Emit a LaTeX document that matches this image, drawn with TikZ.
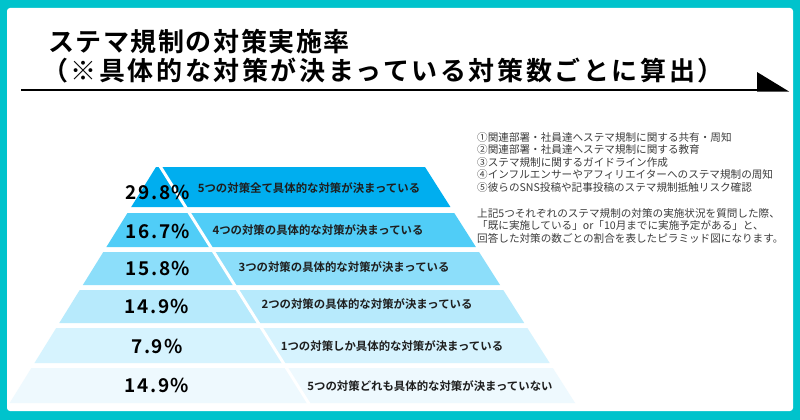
\documentclass[tikz,border=0pt]{standalone}
\usepackage{fontspec}
\setmainfont{Noto Sans CJK JP}[BoldFont={Noto Sans CJK JP Bold}]
\usetikzlibrary{positioning}

\definecolor{frame}{RGB}{0,195,204}
\definecolor{lay1}{RGB}{0,174,239}
\definecolor{lay2}{RGB}{80,205,247}
\definecolor{lay3}{RGB}{140,222,250}
\definecolor{lay4}{RGB}{183,234,252}
\definecolor{lay5}{RGB}{214,243,254}
\definecolor{lay6}{RGB}{238,249,254}
\definecolor{textdark}{RGB}{30,30,30}
\definecolor{textgray}{RGB}{60,60,60}

\begin{document}
\begin{tikzpicture}[
    x=1pt, y=-1pt,
    titletext/.style={font=\bfseries\fontsize{26}{28}\selectfont\addfontfeature{LetterSpace=6}, anchor=west, inner sep=0},
    subtitletext/.style={font=\bfseries\fontsize{26}{28}\selectfont\addfontfeature{LetterSpace=10}, anchor=west, inner sep=0},
    pct/.style={font=\bfseries\fontsize{19}{20}\selectfont\addfontfeature{LetterSpace=8}, text=black},
    lbl/.style={font=\bfseries\fontsize{11.4}{12}\selectfont, text=textdark},
    note/.style={font=\fontsize{10.6}{12}\selectfont, text=textgray, anchor=base west, inner sep=0}
]

% Frame
\fill[frame] (0,0) rectangle (800,420);
\fill[white, rounded corners=3pt] (7,8) rectangle (793,411);
\useasboundingbox (0,0) rectangle (800,420);

% Title
\node[titletext] (title1) at (48,42) {ステマ規制の対策実施率};
\node[subtitletext] (title2) at (42,71) {（※具体的な対策が決まっている対策数ごとに算出）};
\coordinate (ulstart) at (21,90);
\coordinate (ulend) at (757,90);
\draw[line width=2pt] (ulstart) -- (ulend);
\fill (757,72) -- (789,91.5) -- (757,91.5) -- cycle;

% Pyramid layers
\foreach \yt/\yb/\col in {167/207/lay1, 213/247/lay2, 252/285/lay3, 290/323/lay4, 328/363/lay5, 368/403/lay6}
  \fill[\col] ({156-0.62*(\yt-167)},\yt) -- ({425+0.636*(\yt-167)},\yt)
     -- ({425+0.636*(\yb-167)},\yb) -- ({156-0.62*(\yb-167)},\yb) -- cycle;
\coordinate (divtop) at (158,163);
\coordinate (divbot) at ({158+0.627*244},407);
\draw[white, line width=3pt] (divtop) -- (divbot);

% Percentages
\node[pct] (p5) at (158,192) {29.8\%};
\node[pct] (p4) at (158,231) {16.7\%};
\node[pct] (p3) at (158,268) {15.8\%};
\node[pct] (p2) at (157,306) {14.9\%};
\node[pct] (p1) at (157,346) {7.9\%};
\node[pct] (p0) at (157,385) {14.9\%};

% Labels
\node[lbl] (l5) at (309,188) {5つの対策全て具体的な対策が決まっている};
\node[lbl] (l4) at (318,230) {4つの対策の具体的な対策が決まっている};
\node[lbl] (l3) at (344,267) {3つの対策の具体的な対策が決まっている};
\node[lbl] (l2) at (367,304) {2つの対策の具体的な対策が決まっている};
\node[lbl] (l1) at (392,346) {1つの対策しか具体的な対策が決まっている};
\node[lbl] (l0) at (430,386) {5つの対策どれも具体的な対策が決まっていない};

% Notes
\foreach \txt [count=\k] in {①関連部署・社員達へステマ規制に関する共有・周知,
    ②関連部署・社員達へステマ規制に関する教育,
    ③ステマ規制に関するガイドライン作成,
    ④インフルエンサーやアフィリエイターへのステマ規制の周知,
    ⑤彼らのSNS投稿や記事投稿のステマ規制抵触リスク確認}
  \node[note] (item\k) at (477,{141+12.5*(\k-1)}) {\txt};
\foreach \txt [count=\k] in {上記5つそれぞれのステマ規制の対策の実施状況を質問した際、,
    「既に実施している」or「10月までに実施予定がある」と、,
    回答した対策の数ごとの割合を表したピラミッド図になります。}
  \node[note] (para\k) at (477,{217+12.5*(\k-1)}) {\txt};

\end{tikzpicture}
\end{document}
